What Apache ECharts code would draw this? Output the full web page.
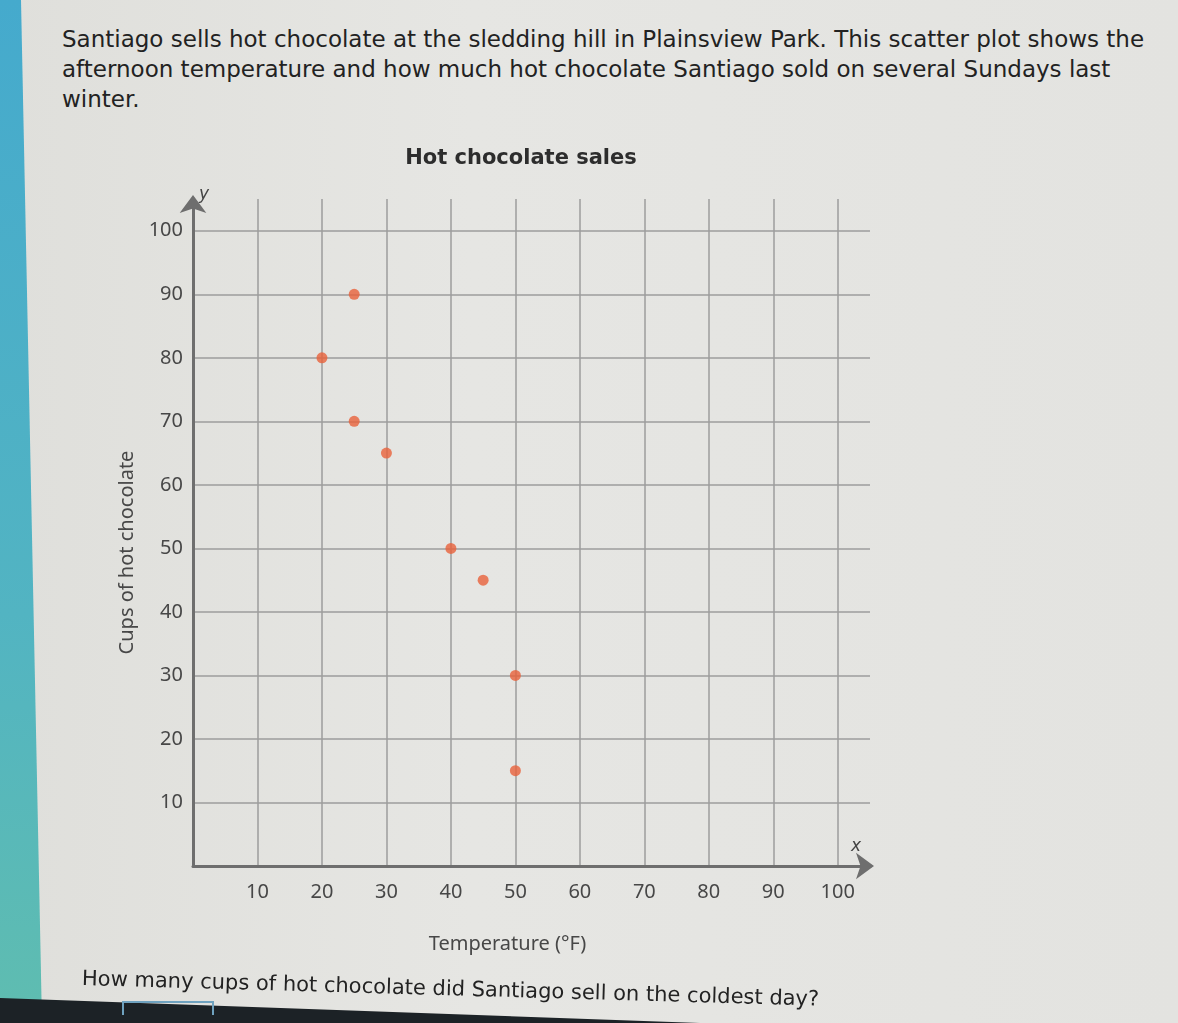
<!DOCTYPE html>
<html>
<head>
<meta charset="utf-8">
<title>Hot chocolate sales</title>
<script src="https://cdn.jsdelivr.net/npm/echarts@6/dist/echarts.min.js"></script>
<style>
  html, body { margin: 0; padding: 0; }
  body {
    width: 1178px; height: 1023px; position: relative; overflow: hidden;
    background: linear-gradient(90deg, #dfdfdb 0%, #e6e6e3 40%, #e3e3e0 100%);
    font-family: "DejaVu Sans", Verdana, sans-serif; color: #2a2a2a;
  }
  .strip {
    position: absolute; left: 0; top: 0; width: 44px; height: 1023px;
    background: linear-gradient(180deg, #45aacd 0%, #52b4c2 60%, #5fbdb0 100%);
    clip-path: polygon(0 0, 21px 0, 42px 1023px, 0 1023px);
  }
  .intro {
    position: absolute; left: 62px; top: 24px; width: 1110px; white-space: nowrap;
    font-size: 23px; line-height: 30px; color: #222;
  }
  .question {
    position: absolute; left: 82px; top: 966px; white-space: nowrap;
    font-size: 21px; color: #222; transform: rotate(1.6deg); transform-origin: left center;
  }
  .bar {
    position: absolute; left: 0; top: 990px; width: 1178px; height: 33px;
    background: #1c2226;
    clip-path: polygon(0 8px, 700px 33px, 0 33px);
  }
  .box {
    position: absolute; left: 122px; top: 1001px; width: 88px; height: 12px;
    border: 2px solid #6fa2bf; border-bottom: none;
  }
  #main { position: absolute; left: 0; top: 0; width: 1178px; height: 1023px; }
</style>
</head>
<body>
<div class="strip"></div>
<div class="intro">Santiago sells hot chocolate at the sledding hill in Plainsview Park. This scatter plot shows the<br>afternoon temperature and how much hot chocolate Santiago sold on several Sundays last<br>winter.</div>
<div id="main"></div>
<div class="question">How many cups of hot chocolate did Santiago sell on the coldest day?</div>
<div class="bar"></div>
<div class="box"></div>
<script>
// temperature (°F) of each Sunday
var temperatures = [20, 25, 25, 30, 40, 45, 50, 50];
// cups of hot chocolate sold
var cupsSold = [80, 90, 70, 65, 50, 45, 30, 15];

var chartDom = document.getElementById("main");
var myChart = echarts.init(chartDom, null, { renderer: "canvas" });

var points = [];
for (var i = 0; i < temperatures.length; i++) {
  points.push([temperatures[i], cupsSold[i]]);
}

var axisColor = "#6e6e6e";
var gridColor = "#9c9c9c";
var labelFont = { fontFamily: "Noto Sans", fontSize: 20, color: "#474747" };

var option = {
  backgroundColor: "transparent",
  animation: false,
  title: {
    text: "Hot chocolate sales",
    left: 516,
    top: 143,
    textAlign: "center",
    textStyle: {
      fontFamily: "DejaVu Sans",
      fontSize: 21,
      fontWeight: "bold",
      color: "#2d2d2d",
    },
  },
  grid: {
    left: 193,
    right: 308,
    top: 199,
    bottom: 157,
  },
  xAxis: {
    type: "value",
    min: 0,
    max: 105,
    interval: 10,
    name: "Temperature (°F)",
    nameLocation: "middle",
    nameGap: 68,
    nameTextStyle: Object.assign({ padding: [0, 48, 0, 0] }, labelFont),
    axisLine: {
      lineStyle: { color: axisColor, width: 3 },
      symbol: ["none", "arrow"],
      symbolSize: [20, 18],
      symbolOffset: [0, 4],
    },
    axisTick: { show: false },
    axisLabel: Object.assign({ margin: 16, showMinLabel: false, showMaxLabel: false }, labelFont),
    splitLine: {
      show: true,
      showMinLine: false,
      showMaxLine: false,
      lineStyle: { color: gridColor, width: 1.5 },
    },
  },
  yAxis: {
    type: "value",
    min: 0,
    max: 105,
    interval: 10,
    name: "Cups of hot chocolate",
    nameLocation: "middle",
    nameGap: 54,
    nameTextStyle: Object.assign({ padding: [0, 40, 0, 0] }, labelFont),
    axisLine: {
      lineStyle: { color: axisColor, width: 3 },
      symbol: ["none", "arrow"],
      symbolSize: [20, 18],
      symbolOffset: [0, 4],
    },
    axisTick: { show: false },
    axisLabel: Object.assign({ margin: 10, showMinLabel: false, showMaxLabel: false }, labelFont),
    splitLine: {
      show: true,
      showMinLine: false,
      showMaxLine: false,
      lineStyle: { color: gridColor, width: 1.5 },
    },
  },
  graphic: [
    {
      type: "text",
      left: 199,
      top: 186,
      style: { text: "y", fontFamily: "DejaVu Sans", fontStyle: "italic", fontSize: 17, fill: "#444" },
    },
    {
      type: "text",
      left: 851,
      top: 838,
      style: { text: "x", fontFamily: "DejaVu Sans", fontStyle: "italic", fontSize: 17, fill: "#444" },
    },
  ],
  series: [
    {
      name: "Sundays",
      type: "scatter",
      symbol: "circle",
      symbolSize: 11,
      itemStyle: { color: "#e8623b" },
      data: points,
    },
  ],
};

option && myChart.setOption(option);
</script>
</body>
</html>
